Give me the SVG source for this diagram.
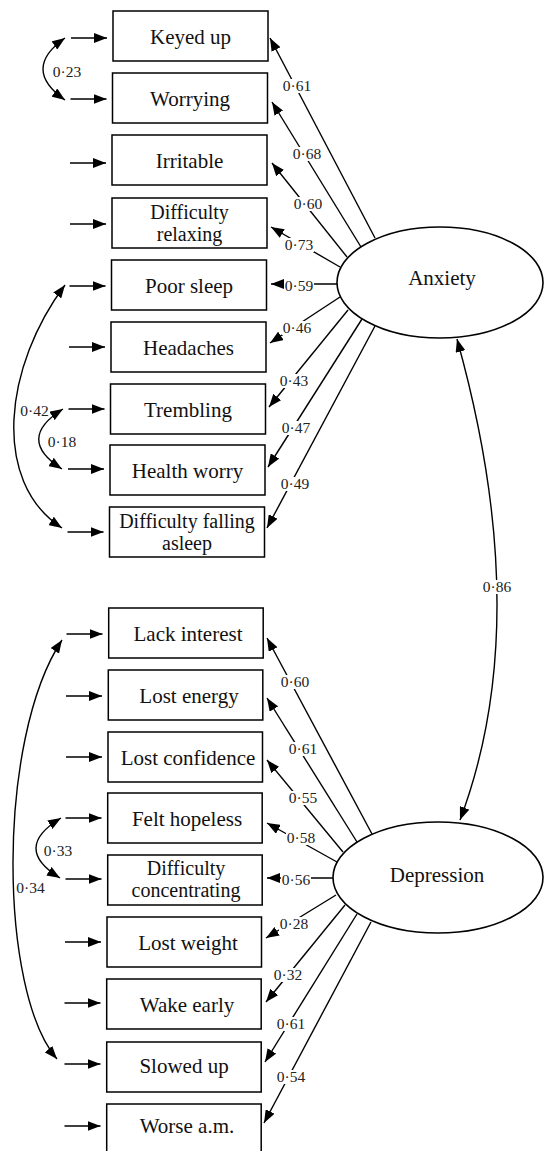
<svg xmlns="http://www.w3.org/2000/svg" width="544" height="1151" viewBox="0 0 544 1151">
<style>
.box{fill:#fff;stroke:#000;stroke-width:1.5}
.lat{fill:#fff;stroke:#000;stroke-width:1.6}
.t{font-family:"Liberation Serif","Times New Roman",serif;font-size:21px;text-anchor:middle;fill:#111}
.t2{font-family:"Liberation Serif","Times New Roman",serif;font-size:20px;text-anchor:middle;fill:#111}
.l{font-family:"Liberation Serif","Times New Roman",serif;font-size:15.5px;text-anchor:middle;fill:#222}
.c{fill:none;stroke:#000;stroke-width:1.4}
.bg{fill:#fff}
</style>
<defs>
<marker id="ah" markerUnits="userSpaceOnUse" markerWidth="13" markerHeight="10" viewBox="0 0 13 10" refX="13" refY="5" orient="auto-start-reverse"><path d="M0,0 L13,5 L0,10 z" fill="#000"/></marker>
</defs>
<g id="connectors">
<path class="c" marker-end="url(#ah)" d="M71,38 H107"/>
<path class="c" marker-end="url(#ah)" d="M70.5,99 H106.5"/>
<path class="c" marker-end="url(#ah)" d="M70,163 H106"/>
<path class="c" marker-end="url(#ah)" d="M70,224 H106"/>
<path class="c" marker-end="url(#ah)" d="M69.5,286 H105.5"/>
<path class="c" marker-end="url(#ah)" d="M69,347 H105"/>
<path class="c" marker-end="url(#ah)" d="M68.5,409 H104.5"/>
<path class="c" marker-end="url(#ah)" d="M68,469 H104"/>
<path class="c" marker-end="url(#ah)" d="M67.5,532 H103.5"/>
<path class="c" marker-end="url(#ah)" d="M66.5,634 H102.5"/>
<path class="c" marker-end="url(#ah)" d="M66,696 H102"/>
<path class="c" marker-end="url(#ah)" d="M66,757 H102"/>
<path class="c" marker-end="url(#ah)" d="M65.5,818 H101.5"/>
<path class="c" marker-end="url(#ah)" d="M65.5,879 H101.5"/>
<path class="c" marker-end="url(#ah)" d="M65,942 H101"/>
<path class="c" marker-end="url(#ah)" d="M64.5,1003 H100.5"/>
<path class="c" marker-end="url(#ah)" d="M64.5,1064 H100.5"/>
<path class="c" marker-end="url(#ah)" d="M64.5,1126 H100.5"/>
<path class="c" marker-start="url(#ah)" marker-end="url(#ah)" d="M65,38 Q21,69 65,100"/>
<path class="c" marker-start="url(#ah)" marker-end="url(#ah)" d="M63,409 Q15,439 62,469"/>
<path class="c" marker-start="url(#ah)" marker-end="url(#ah)" d="M65,285 C5,365 -10,481 62,528"/>
<path class="c" marker-start="url(#ah)" marker-end="url(#ah)" d="M61,818 Q11.5,848 60,878"/>
<path class="c" marker-start="url(#ah)" marker-end="url(#ah)" d="M62,640 C-4,740 -1,992 57,1059"/>
<path class="c" marker-start="url(#ah)" marker-end="url(#ah)" d="M457,339 Q535.5,620 460,820"/>
<path class="c" marker-end="url(#ah)" d="M375,238 L270,38"/>
<path class="c" marker-end="url(#ah)" d="M361,247 L272,102"/>
<path class="c" marker-end="url(#ah)" d="M347,257 L272,163"/>
<path class="c" marker-end="url(#ah)" d="M340,267 L271,227"/>
<path class="c" marker-end="url(#ah)" d="M338,284 L271,284"/>
<path class="c" marker-end="url(#ah)" d="M340,297 L270,343"/>
<path class="c" marker-end="url(#ah)" d="M348,310 L269,407"/>
<path class="c" marker-end="url(#ah)" d="M362,319 L268,467"/>
<path class="c" marker-end="url(#ah)" d="M375,326 L267,528"/>
<path class="c" marker-end="url(#ah)" d="M372,834 L267,638"/>
<path class="c" marker-end="url(#ah)" d="M357,842 L267,698"/>
<path class="c" marker-end="url(#ah)" d="M343,852 L267,760"/>
<path class="c" marker-end="url(#ah)" d="M337,862 L267,823"/>
<path class="c" marker-end="url(#ah)" d="M333,878 L267,878"/>
<path class="c" marker-end="url(#ah)" d="M336,895 L266,938"/>
<path class="c" marker-end="url(#ah)" d="M345,905 L266,1002"/>
<path class="c" marker-end="url(#ah)" d="M357,914 L265,1062"/>
<path class="c" marker-end="url(#ah)" d="M371,922 L264,1123"/>
<rect class="bg" x="282" y="79" width="30" height="14"/>
<rect class="bg" x="292" y="147" width="30" height="14"/>
<rect class="bg" x="293" y="197" width="30" height="14"/>
<rect class="bg" x="284" y="238" width="30" height="14"/>
<rect class="bg" x="284" y="279" width="30" height="14"/>
<rect class="bg" x="282" y="321" width="30" height="14"/>
<rect class="bg" x="279" y="374" width="30" height="14"/>
<rect class="bg" x="281" y="421" width="30" height="14"/>
<rect class="bg" x="280" y="477" width="30" height="14"/>
<rect class="bg" x="482" y="580" width="30" height="14"/>
<rect class="bg" x="280" y="675" width="30" height="14"/>
<rect class="bg" x="288" y="742" width="30" height="14"/>
<rect class="bg" x="288" y="791" width="30" height="14"/>
<rect class="bg" x="286" y="831" width="30" height="14"/>
<rect class="bg" x="281" y="873" width="30" height="14"/>
<rect class="bg" x="279" y="917" width="30" height="14"/>
<rect class="bg" x="273" y="968" width="30" height="14"/>
<rect class="bg" x="276" y="1017" width="30" height="14"/>
<rect class="bg" x="276" y="1070" width="30" height="14"/>
<text class="l" x="297" y="91">0·61</text>
<text class="l" x="307" y="159">0·68</text>
<text class="l" x="308" y="209">0·60</text>
<text class="l" x="299" y="250">0·73</text>
<text class="l" x="299" y="291">0·59</text>
<text class="l" x="297" y="333">0·46</text>
<text class="l" x="294" y="386">0·43</text>
<text class="l" x="296" y="433">0·47</text>
<text class="l" x="295" y="489">0·49</text>
<text class="l" x="497" y="592">0·86</text>
<text class="l" x="295" y="687">0·60</text>
<text class="l" x="303" y="754">0·61</text>
<text class="l" x="303" y="803">0·55</text>
<text class="l" x="301" y="843">0·58</text>
<text class="l" x="296" y="885">0·56</text>
<text class="l" x="294" y="929">0·28</text>
<text class="l" x="288" y="980">0·32</text>
<text class="l" x="291" y="1029">0·61</text>
<text class="l" x="291" y="1082">0·54</text>
<text class="l" x="67" y="77">0·23</text>
<text class="l" x="34.5" y="416">0·42</text>
<text class="l" x="62" y="447">0·18</text>
<text class="l" x="58" y="856">0·33</text>
<text class="l" x="30.5" y="893">0·34</text>
</g>
<g id="anxiety"><ellipse class="lat" cx="440" cy="282.5" rx="103" ry="55.5"/><text class="t" x="442" y="285">Anxiety</text></g>
<g id="depression"><ellipse class="lat" cx="438" cy="877.5" rx="105" ry="55.5"/><text class="t" x="437" y="882">Depression</text></g>
<g id="keyed-up"><rect class="box" x="113" y="11" width="155" height="50"/><text class="t" x="190.5" y="44">Keyed up</text></g>
<g id="worrying"><rect class="box" x="112.5" y="73" width="155" height="50"/><text class="t" x="190" y="106">Worrying</text></g>
<g id="irritable"><rect class="box" x="112" y="135" width="155" height="50"/><text class="t" x="189.5" y="168">Irritable</text></g>
<g id="difficulty-relaxing"><rect class="box" x="112" y="198" width="155" height="50"/><text class="t2" x="189.5" y="219">Difficulty</text><text class="t2" x="189.5" y="241">relaxing</text></g>
<g id="poor-sleep"><rect class="box" x="111.5" y="260" width="155" height="50"/><text class="t" x="189" y="293">Poor sleep</text></g>
<g id="headaches"><rect class="box" x="111" y="322" width="155" height="50"/><text class="t" x="188.5" y="355">Headaches</text></g>
<g id="trembling"><rect class="box" x="110.5" y="384" width="155" height="50"/><text class="t" x="188" y="417">Trembling</text></g>
<g id="health-worry"><rect class="box" x="110" y="445" width="155" height="50"/><text class="t" x="187.5" y="478">Health worry</text></g>
<g id="difficulty-falling-asleep"><rect class="box" x="109.5" y="507" width="155" height="50"/><text class="t2" x="187" y="528">Difficulty falling</text><text class="t2" x="187" y="550">asleep</text></g>
<g id="lack-interest"><rect class="box" x="108.7" y="608" width="154.5" height="50"/><text class="t" x="188" y="641">Lack interest</text></g>
<g id="lost-energy"><rect class="box" x="108.3" y="670" width="154.5" height="50"/><text class="t" x="189" y="703">Lost energy</text></g>
<g id="lost-confidence"><rect class="box" x="108" y="732" width="154.5" height="50"/><text class="t" x="188" y="765">Lost confidence</text></g>
<g id="felt-hopeless"><rect class="box" x="107.7" y="793" width="154.5" height="50"/><text class="t" x="187" y="826">Felt hopeless</text></g>
<g id="difficulty-concentrating"><rect class="box" x="107.7" y="855" width="154.5" height="50"/><text class="t2" x="186" y="875">Difficulty</text><text class="t2" x="186" y="897">concentrating</text></g>
<g id="lost-weight"><rect class="box" x="107" y="917" width="154.5" height="50"/><text class="t" x="188" y="950">Lost weight</text></g>
<g id="wake-early"><rect class="box" x="106.7" y="979" width="154.5" height="50"/><text class="t" x="187" y="1012">Wake early</text></g>
<g id="slowed-up"><rect class="box" x="106.7" y="1042" width="154.5" height="50"/><text class="t" x="184" y="1073">Slowed up</text></g>
<g id="worse-am"><rect class="box" x="106.7" y="1104" width="154.5" height="50"/><text class="t" x="187" y="1133">Worse a.m.</text></g>
</svg>
